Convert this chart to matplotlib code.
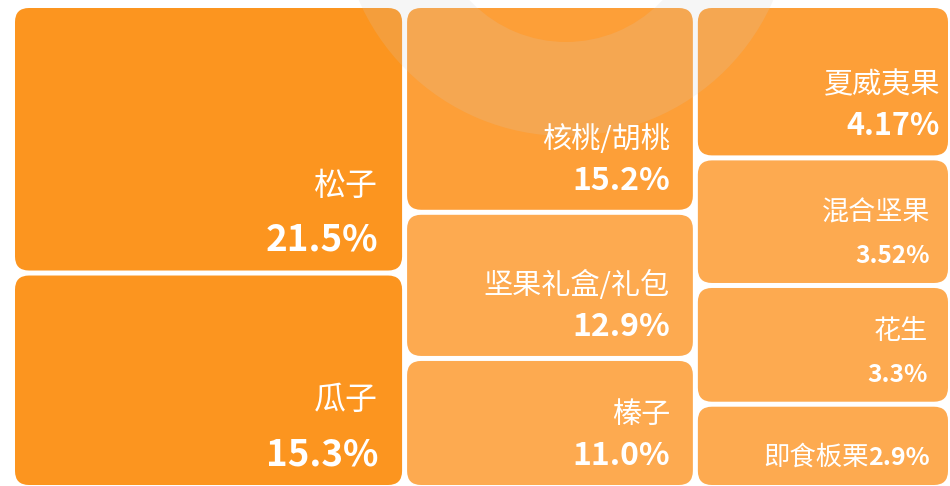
import matplotlib
matplotlib.use("Agg")
import matplotlib.pyplot as plt
import numpy as np
from matplotlib.patches import FancyBboxPatch, Wedge

plt.rcParams['font.family'] = ['Noto Sans CJK SC', 'DejaVu Sans']

# data
names = ["松子", "瓜子", "核桃/胡桃", "坚果礼盒/礼包", "榛子",
         "夏威夷果", "混合坚果", "花生", "即食板栗"]
shares = ["21.5%", "15.3%", "15.2%", "12.9%", "11.0%",
          "4.17%", "3.52%", "3.3%", "2.9%"]
# tile area weights (estimated from the tile sizes)
weights = [23.2, 18.6, 13.3, 9.4, 8.3, 8.6, 7.2, 6.7, 4.7]
tiers = [0, 0, 1, 2, 2, 1, 2, 2, 2]

# styles
palette = ["#FC951F", "#FD9F38", "#FDAA50"]
name_pt = [23, 23, 21, 21, 21, 21, 19.5, 19.5, 19]
value_pt = [26.5, 26.5, 23, 23, 23, 22, 17.5, 17.5, 18]
pad_right = [24, 24, 23, 23, 23, 8, 18, 20, 18]


def strip_layout(vals, x0, y0, w, h, max_cols=3, ratio=(1 + 5 ** 0.5) / 2):
    # squarify-like, but always in vertical strips; last strip takes the rest
    areas = np.asarray(vals, float) / np.sum(vals) * w * h

    def worst(row):
        s = sum(row)
        f = h * h * ratio
        return max(f * max(row) / s ** 2, s ** 2 / (f * min(row)))

    cols, row, best = [], [], np.inf
    for a in areas:
        score = worst(row + [a])
        if row and score > best and len(cols) < max_cols - 1:
            cols.append(row)
            row = [a]
            best = worst(row)
        else:
            row = row + [a]
            best = score
    cols.append(row)

    rects = []
    x = x0
    for col in cols:
        cw = sum(col) / h
        y = y0
        for a in col:
            ch = a / cw
            rects.append((x, y, cw, ch))
            y += ch
        x += cw
    return rects


fig = plt.figure(figsize=(9.5, 4.86), dpi=100)
ax = fig.add_axes([0, 0, 1, 1])
ax.set_xlim(0, 950)
ax.set_ylim(486, 0)
ax.axis("off")

half_gap = 2.5
cells = strip_layout(weights, 12.5, 5.5, 938, 482)

for i, (x, y, w, h) in enumerate(cells):
    ax.add_patch(FancyBboxPatch(
        (x + half_gap, y + half_gap), w - 2 * half_gap, h - 2 * half_gap,
        boxstyle="round,pad=0,rounding_size=14",
        fc=palette[tiers[i]], ec="none", zorder=1))

# faint ring watermark
ax.add_patch(Wedge((566, -90), 226, 0, 360, width=94,
                   fc=(207 / 255, 207 / 255, 207 / 255), alpha=0.17,
                   ec="none", zorder=2))

renderer = fig.canvas.get_renderer()
for i, (x, y, w, h) in enumerate(cells):
    right = x + w - half_gap - pad_right[i]
    base = y + h - half_gap - 20
    val = ax.text(right, base, shares[i], ha="right", va="baseline",
                  color="white", fontsize=value_pt[i], fontweight="bold",
                  zorder=3)
    if h < 100:
        # short tile: name and share on one line
        bb = val.get_window_extent(renderer)
        left = ax.transData.inverted().transform((bb.x0, bb.y0))[0]
        ax.text(left, base, names[i], ha="right", va="baseline",
                color="white", fontsize=name_pt[i], zorder=3)
    else:
        gap = 65 if value_pt[i] > 25 else 50
        ax.text(right, base - gap, names[i], ha="right", va="center",
                color="white", fontsize=name_pt[i], zorder=3)

fig.savefig("out.png", dpi=100, facecolor="white")
